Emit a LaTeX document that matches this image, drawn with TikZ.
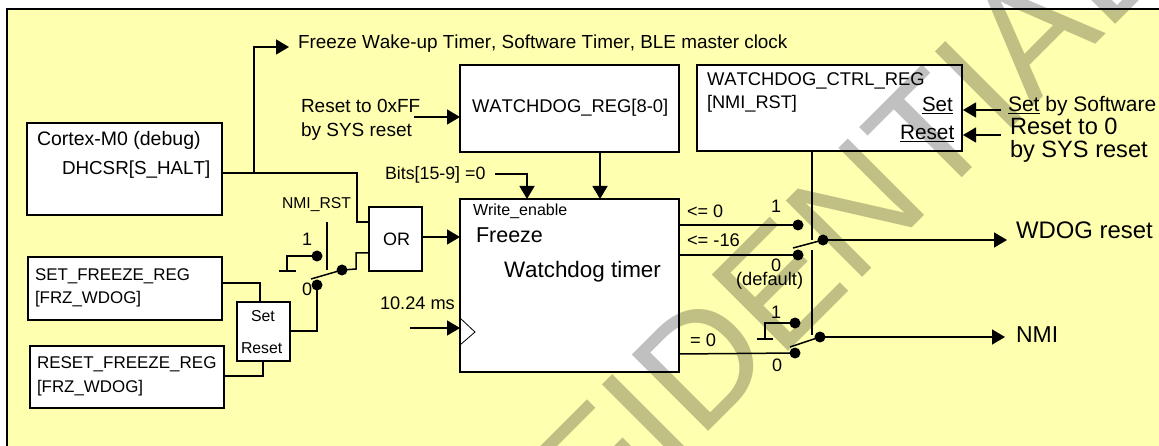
\documentclass[tikz,border=0pt]{standalone}
\usepackage{fontspec}
\setmainfont[Kerning=Off]{Liberation Sans}
\usetikzlibrary{arrows.meta}
\definecolor{panel}{HTML}{FFFFB0}
\definecolor{wm}{HTML}{C0C0C0}
\tikzset{
  x=1pt,y=-1pt,
  box/.style={draw=black,line width=1.7pt,fill=white,inner sep=0pt,outer sep=0pt},
  lbl/.style={anchor=base west,inner sep=0pt,outer sep=0pt,text=black,font=\fontsize{#1}{#1}\selectfont},
  wire/.style={draw=black,line width=1.5pt,line join=miter},
  sig/.style={wire,-{Triangle[length=13pt,width=15pt]}},
  dot/.style={circle,fill=black,draw=none,minimum size=11pt,inner sep=0pt,outer sep=0pt},
  tickmark/.style={draw=black,line width=1.3pt},
}
\begin{document}
\begin{tikzpicture}
\useasboundingbox (0,0) rectangle (1159,446);
\clip (0,0) rectangle (1159,446);
\fill[white] (0,0) rectangle (1159,446);
\fill[panel] (7,9) rectangle (1159,446);
\draw[black,line width=1.7pt] (7,446) -- (7,9) -- (1159,9);

% boxes
\node[box,minimum width=195pt,minimum height=92pt] (cortex) at (124.5,169) {};
\node[box,minimum width=194pt,minimum height=63pt] (setreg) at (125,288.5) {};
\node[box,minimum width=194pt,minimum height=62pt] (resetreg) at (127,377) {};
\node[box,minimum width=53pt,minimum height=59pt] (sr) at (263.5,331.5) {};
\node[box,minimum width=53pt,minimum height=64pt] (orgate) at (395.5,239) {};
\node[box,minimum width=219pt,minimum height=87pt] (wdreg) at (569.5,108.5) {};
\node[box,minimum width=265pt,minimum height=86pt] (ctrl) at (829.5,108) {};
\node[box,minimum width=219pt,minimum height=173pt] (timer) at (569.5,285.5) {};

% dots
\node[dot] (a1) at (317,256) {};
\node[dot] (a0) at (317,285) {};
\node[dot] (ao) at (342,270) {};
\node[dot] (b1) at (798,225) {};
\node[dot] (b0) at (798,255) {};
\node[dot] (bo) at (823,240) {};
\node[dot] (c1) at (795,323) {};
\node[dot] (c0) at (795,353) {};
\node[dot] (co) at (820,337) {};

% free ends and junctions
\coordinate (cortexout) at (222,173);
\coordinate (branch) at (254,173);
\coordinate (freezetip) at (289,47);
\coordinate (orin1) at (369,222);
\coordinate (orin2) at (369,253);
\coordinate (orout) at (422,237);
\coordinate (timerfz) at (460,237);
\coordinate (rstff) at (414,117);
\coordinate (wdin) at (460,117);
\coordinate (wdout) at (600,152);
\coordinate (timertop) at (600,199);
\coordinate (bitsfrom) at (495,174);
\coordinate (bitsto) at (527,199);
\coordinate (clkfrom) at (410,328);
\coordinate (clkto) at (460,328);
\coordinate (setsw) at (1001,110);
\coordinate (setin) at (963,110);
\coordinate (rstsw) at (1001,135);
\coordinate (rstin) at (963,135);
\coordinate (wdogtip) at (1007,240);
\coordinate (nmitip) at (1005,337);

% left side wiring
\draw[wire] (cortexout) -- (357,173) -- (357,222) -- (orin1);
\draw[sig] (branch) -- (254,47) -- (freezetip);
\draw[wire] (orin2) -- (356,253) -- (356,269) -- (ao.center);
\draw[wire] (ao.center) -- (311,279);
\draw[wire] (a1.center) -- (287,256) -- (287,271);
\draw[tickmark] (279,271) -- (296,271);
\draw[wire] (327,222) -- (327,270);
\draw[wire] (a0.center) -- (317,331) -- (sr.east |- 0,331);
\draw[wire] (setreg.east |- 0,283) -- (260,283) -- (260,302);
\draw[wire] (resetreg.east |- 0,376) -- (263,376) -- (263,361);
\draw[sig] (orout) -- (timerfz);
\draw[sig] (rstff) -- (wdin);
\draw[sig] (wdout) -- (timertop);
\draw[sig] (bitsfrom) -- (527,174) -- (bitsto);
\draw[sig] (clkfrom) -- (clkto);
\draw[black,line width=.8pt] (460,318) -- (475,332) -- (460,345);

% right side wiring
\draw[wire] (timer.east |- 0,225) -- (b1.center);
\draw[wire] (timer.east |- 0,255) -- (b0.center);
\draw[wire] (timer.east |- 0,354) -- (c0.center);
\draw[wire] (793,248) -- (bo.center);
\draw[wire] (790,347) -- (co.center);
\draw[sig] (bo.center) -- (wdogtip);
\draw[sig] (co.center) -- (nmitip);
\draw[wire] (ctrl.south -| 812,0) -- (812,240);
\draw[wire] (812,250) -- (812,335);
\draw[wire] (c1.center) -- (765,323) -- (765,339);
\draw[tickmark] (757,339) -- (773,339);
\draw[sig] (setsw) -- (setin);
\draw[sig] (rstsw) -- (rstin);

% labels
\node[lbl=18.9] (t1) at (298,49) {Freeze Wake-up Timer, Software Timer, BLE master clock};
\node[lbl=19] (t2) at (301,113) {Reset to 0xFF};
\node[lbl=19] (t3) at (301,137) {by SYS reset};
\node[lbl=18.4] (t4) at (472,113) {WATCHDOG\_REG[8-0]};
\node[lbl=17.8] (t5) at (385,180) {Bits[15-9] =0};
\node[lbl=15.7] (t6) at (282,209) {NMI\_RST};
\node[lbl=16] (t7) at (473,216) {Write\_enable};
\node[lbl=21.5] (t8) at (476,243) {Freeze};
\node[lbl=22.4] (t9) at (504,278) {Watchdog timer};
\node[lbl=19.5] (t10) at (37,146) {Cortex-M0 (debug)};
\node[lbl=18.8] (t11) at (62,175) {DHCSR[S\_HALT]};
\node[lbl=16.9] (t12) at (35,280) {SET\_FREEZE\_REG};
\node[lbl=16.9] (t13) at (35,304) {[FRZ\_WDOG]};
\node[lbl=17] (t14) at (37,368) {RESET\_FREEZE\_REG};
\node[lbl=16.9] (t15) at (37,392) {[FRZ\_WDOG]};
\node[lbl=15.8] (t16) at (251,322) {Set};
\node[lbl=15.8] (t17) at (241,353) {Reset};
\node[lbl=18] (t18) at (383,246) {OR};
\node[lbl=18] (t19) at (302,246) {1};
\node[lbl=18] (t20) at (302,295) {0};
\node[lbl=18.2] (t21) at (380,309) {10.24 ms};
\node[lbl=18.4] (t22) at (707,86) {WATCHDOG\_CTRL\_REG};
\node[lbl=18.2] (t23) at (707,109) {[NMI\_RST]};
\node[lbl=20.5] (t24) at (922,112) {\underline{Set}};
\node[lbl=20.8] (t25) at (900,140) {\underline{Reset}};
\node[lbl=21] (t26) at (1008,112) {\underline{Set} by Software};
\node[lbl=23.6] (t27) at (1010,135) {Reset to 0};
\node[lbl=23.6] (t28) at (1010,158) {by SYS reset};
\node[lbl=18] (t29) at (687,218) {<= 0};
\node[lbl=18.3] (t30) at (687,247) {<= -16};
\node[lbl=18] (t31) at (771,213) {1};
\node[lbl=23.9] (t32) at (1016,239) {WDOG reset};
\node[lbl=18] (t33) at (771,272) {0};
\node[lbl=18.3] (t34) at (736,286) {(default)};
\node[lbl=18] (t35) at (771,319) {1};
\node[lbl=18.3] (t36) at (690,346) {= 0};
\node[lbl=18] (t37) at (772,371) {0};
\node[lbl=23] (t38) at (1016,342) {NMI};

% watermark
\begin{scope}[blend mode=multiply]
\node[inner sep=0pt,anchor=base west,text=wm,rotate=45,font=\fontsize{157}{157}\selectfont] (mark) at (354,786) {CONFIDENTIAL};
\end{scope}
\end{tikzpicture}
\end{document}
